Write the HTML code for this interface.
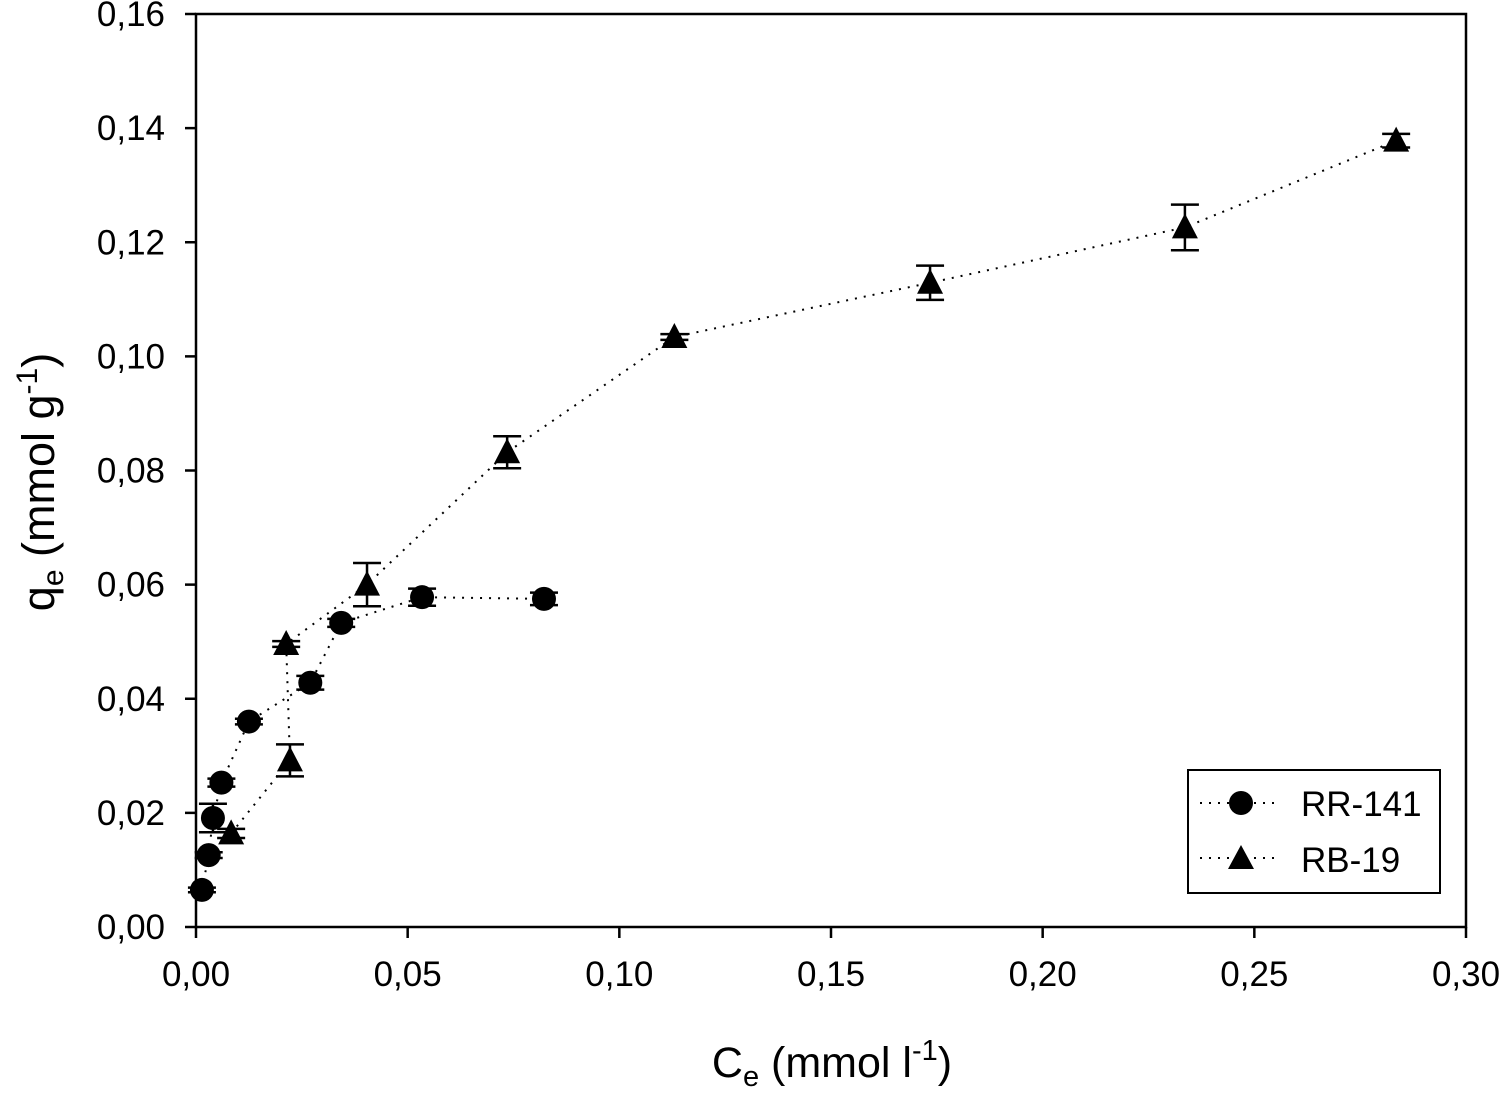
<!DOCTYPE html>
<html><head><meta charset="utf-8"><style>
body{margin:0;background:#fff}
svg text{font-family:"Liberation Sans",Arial,sans-serif;fill:#000}
</style></head><body>
<svg id="chart" width="1500" height="1089" viewBox="0 0 1500 1089" xmlns="http://www.w3.org/2000/svg">
<rect x="196" y="14" width="1270" height="913" fill="none" stroke="#000" stroke-width="2.5"/>
<g id="axes"></g><g id="series"></g>
<text x="832" y="1077" font-size="43" text-anchor="middle">C<tspan font-size="29" dy="9">e</tspan><tspan dy="-9"> (mmol l</tspan><tspan font-size="29" dy="-17">-1</tspan><tspan dy="17">)</tspan></text>
<text transform="translate(54,482) rotate(-90)" font-size="45" text-anchor="middle">q<tspan font-size="30" dy="9">e</tspan><tspan dy="-9"> (mmol g</tspan><tspan font-size="30" dy="-17">-1</tspan><tspan dy="17">)</tspan></text>
<g>
<rect x="1188" y="770" width="252" height="123" fill="#fff" stroke="#000" stroke-width="2"/>
<line x1="1200" y1="803" x2="1280" y2="803" stroke="#000" stroke-width="2" stroke-dasharray="2,7"/>
<circle cx="1241" cy="803" r="12"/>
<text x="1301" y="816" font-size="35">RR-141</text>
<line x1="1200" y1="858" x2="1280" y2="858" stroke="#000" stroke-width="2" stroke-dasharray="2,7"/>
<polygon points="1241,845 1254,869 1228,869"/>
<text x="1301" y="872" font-size="35">RB-19</text>
</g>
</svg>
<script>
const xTicks=[0,0.05,0.10,0.15,0.20,0.25,0.30];
const xTickLabels=["0,00","0,05","0,10","0,15","0,20","0,25","0,30"];
const yTicks=[0,0.02,0.04,0.06,0.08,0.10,0.12,0.14,0.16];
const yTickLabels=["0,00","0,02","0,04","0,06","0,08","0,10","0,12","0,14","0,16"];
const rrX=[0.0014,0.003,0.004,0.006,0.0125,0.027,0.0343,0.0534,0.0822];
const rrY=[0.0065,0.0126,0.0191,0.0253,0.036,0.0428,0.0533,0.0578,0.0575];
const rrErr=[0.0004,0.0005,0.0025,0.0007,0.0005,0.0012,0.0007,0.0015,0.0011];
const rbX=[0.0083,0.0222,0.0213,0.0404,0.0735,0.113,0.1734,0.2336,0.2835];
const rbY=[0.0164,0.0292,0.0496,0.060,0.0832,0.1034,0.1129,0.1226,0.1378];
const rbErr=[0.0008,0.0028,0.0005,0.0038,0.0028,0.0005,0.003,0.004,0.0012];
const NS="http://www.w3.org/2000/svg";
const X0=196,X1=1466,Y0=927,Y1=14;
function sx(v){return X0+(v-0)/(0.30)*(X1-X0);}
function sy(v){return Y0-(v/0.16)*(Y0-Y1);}
function mk(t,a,p){const e=document.createElementNS(NS,t);for(const k in a)e.setAttribute(k,a[k]);p.appendChild(e);return e;}
const axes=document.getElementById('axes'),ser=document.getElementById('series');
xTicks.forEach((v,i)=>{
 const l=mk('line',{x1:sx(v),x2:sx(v),y1:Y0,y2:Y0+11,stroke:'#000','stroke-width':2.5},axes);
 
 
 const t=mk('text',{x:sx(v),y:Y0+59,'font-size':35,'text-anchor':'middle'},axes);
 t.textContent=xTickLabels[i];
 
 
});
yTicks.forEach((v,i)=>{
 const l=mk('line',{x1:X0-11,x2:X0,y1:sy(v),y2:sy(v),stroke:'#000','stroke-width':2.5},axes);
 
 
 const t=mk('text',{x:X0-31,y:sy(v)+12,'font-size':35,'text-anchor':'end'},axes);
 t.textContent=yTickLabels[i];
 
 
});
function drawSeries(xs,ys,es,kind){
 const pts=xs.map((x,i)=>sx(x)+','+sy(ys[i])).join(' ');
 const pl=mk('polyline',{points:pts,fill:'none',stroke:'#000','stroke-width':2,'stroke-dasharray':'2,7'},ser);
 
 
 xs.forEach((x,i)=>{
  const cx=sx(x),t=sy(ys[i]+es[i]),b=sy(ys[i]-es[i]);
  const g=mk('g',{},ser);
  
  
  mk('line',{x1:cx,x2:cx,y1:t,y2:b,stroke:'#000','stroke-width':2.5},g);
  mk('line',{x1:cx-14,x2:cx+14,y1:t,y2:t,stroke:'#000','stroke-width':2.5},g);
  mk('line',{x1:cx-14,x2:cx+14,y1:b,y2:b,stroke:'#000','stroke-width':2.5},g);
  const cy=sy(ys[i]);let m;
  if(kind==='rr141'){m=mk('circle',{cx:cx,cy:cy,r:12},ser);}
  else{m=mk('polygon',{points:`${cx},${cy-14} ${cx+13},${cy+11} ${cx-13},${cy+11}`},ser);}
  
  
 });
}
drawSeries(rrX,rrY,rrErr,'rr141');
drawSeries(rbX,rbY,rbErr,'rb19');
</script>
</body></html>
